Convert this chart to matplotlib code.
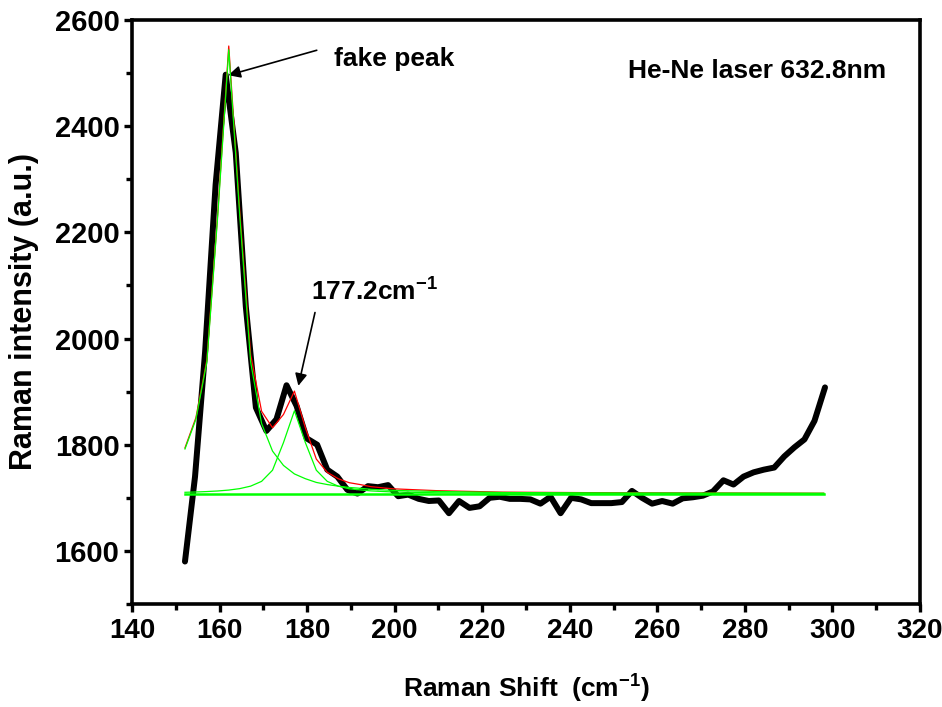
import numpy as np
import matplotlib
matplotlib.use("Agg")
import matplotlib.pyplot as plt
from matplotlib.ticker import MultipleLocator

plt.rcParams['font.family'] = ['Liberation Sans', 'DejaVu Sans']
plt.rcParams['font.weight'] = 'bold'
plt.rcParams['mathtext.fontset'] = 'custom'
plt.rcParams['mathtext.rm'] = 'Liberation Sans:bold'
plt.rcParams['mathtext.bf'] = 'Liberation Sans:bold'
plt.rcParams['mathtext.default'] = 'bf'

# measured spectrum (Raman shift, intensity)
shift = [152.1, 154.4, 156.7, 159.1, 161.4, 163.7, 166.0, 168.3, 170.7, 173.0,
         175.3, 177.6, 179.9, 182.3, 184.6, 186.9, 189.2, 191.5, 193.9, 196.2,
         198.5, 200.8, 203.1, 205.5, 207.8, 210.1, 212.4, 214.7, 217.1, 219.4,
         221.7, 224.0, 226.3, 228.7, 231.0, 233.3, 235.6, 237.9, 240.3, 242.6,
         244.9, 247.2, 249.5, 251.9, 254.2, 256.5, 258.8, 261.1, 263.5, 265.8,
         268.1, 270.4, 272.7, 275.1, 277.4, 279.7, 282.0, 284.3, 286.7, 289.0,
         291.3, 293.6, 295.9, 298.3]
intensity = [1580, 1740, 1975, 2290, 2497, 2350, 2060, 1870, 1826, 1848,
             1912, 1873, 1812, 1800, 1753, 1740, 1715, 1708, 1722, 1720,
             1724, 1703, 1706, 1698, 1694, 1695, 1671, 1694, 1681, 1684,
             1700, 1702, 1698, 1698, 1697, 1689, 1702, 1671, 1700, 1697,
             1690, 1690, 1690, 1692, 1713, 1700, 1689, 1694, 1689, 1699,
             1701, 1704, 1712, 1733, 1725, 1740, 1748, 1753, 1757, 1778,
             1795, 1810, 1845, 1908]

# fitted curves
fit_x = [152.1, 154.6, 157.1, 159.6, 162.1, 164.6, 167.1, 169.6, 172.1, 174.6,
         177.1, 179.6, 182.1, 184.6, 187.1, 189.6, 192.1, 194.6, 197.1, 199.6,
         209.6, 224.6, 249.6, 298.0]
peak1 = [1792, 1848, 1956, 2233, 2544, 2233, 1956, 1840, 1788, 1761,
         1745, 1736, 1729, 1725, 1722, 1719.5, 1718, 1716, 1715, 1714,
         1712, 1710, 1709, 1708.5]
peak2 = [1710.4, 1711, 1711.8, 1712.9, 1714.6, 1717.3, 1722, 1731, 1752, 1804,
         1864, 1804, 1752, 1731, 1722, 1717, 1715, 1713, 1712, 1711,
         1709.5, 1708.7, 1708.3, 1708.1]
cumulative = [1794, 1851, 1960, 2238, 2551, 2242, 1970, 1863, 1832, 1857,
              1901, 1832, 1773, 1748, 1736, 1728.5, 1725, 1721, 1719, 1717,
              1713.5, 1710.7, 1709.5, 1708.6]
base_x = [152.1, 298.0]
base_y = [1708, 1708]

fig = plt.figure(figsize=(9.42, 7.07), dpi=100)
ax = fig.add_axes([132/942, 1-604/707, 788/942, 584/707])

ax.plot(shift, intensity, color='black', lw=4.3, solid_joinstyle='round',
        solid_capstyle='round', zorder=2)
ax.plot(fit_x, cumulative, color='#ff0000', lw=0.9, zorder=3)
ax.plot(fit_x, peak1, color='#00ff00', lw=0.9, zorder=4)
ax.plot(fit_x, peak2, color='#00ff00', lw=0.9, zorder=4)
ax.plot(base_x, base_y, color='#00ff00', lw=1.8, zorder=4)

ax.set_xlim(140, 320)
ax.set_ylim(1500, 2600)
ax.xaxis.set_major_locator(MultipleLocator(20))
ax.xaxis.set_minor_locator(MultipleLocator(10))
ax.yaxis.set_major_locator(MultipleLocator(200))
ax.yaxis.set_minor_locator(MultipleLocator(100))

for s in ax.spines.values():
    s.set_linewidth(2.6)
ax.tick_params(which='both', direction='out', width=2.4, pad=3)
ax.tick_params(which='major', length=6)
ax.tick_params(which='minor', length=4)
ax.tick_params(axis='y', labelsize=21)
ax.tick_params(axis='x', labelsize=20, pad=4)
for lab in ax.get_xticklabels() + ax.get_yticklabels():
    lab.set_fontweight('bold')

ax.set_xlabel('Raman Shift  (cm$^{-1}$)', fontsize=19, fontweight='bold')
ax.set_ylabel('Raman intensity (a.u.)', fontsize=22, fontweight='bold')
ax.yaxis.set_label_coords(-0.118, 0.5)
ax.xaxis.set_label_coords(0.5, -0.118)

ax.annotate('', xy=(162.0, 2496), xytext=(182.2, 2543),
            arrowprops=dict(arrowstyle='-|>', color='black', lw=1.2,
                            mutation_scale=18, shrinkA=0, shrinkB=0))
ax.annotate('', xy=(178.0, 1911), xytext=(181.8, 2049),
            arrowprops=dict(arrowstyle='-|>', color='black', lw=1.2,
                            mutation_scale=18, shrinkA=0, shrinkB=0))

ax.text(186.1, 2514, 'fake peak', fontsize=19, fontweight='bold',
        ha='left', va='baseline')
ax.text(181.0, 2072, '177.2cm$^{-1}$', fontsize=19, fontweight='bold',
        ha='left', va='baseline')
ax.text(253.2, 2490, 'He-Ne laser 632.8nm', fontsize=19, fontweight='bold',
        ha='left', va='baseline')

fig.savefig('out.png', dpi=100)
